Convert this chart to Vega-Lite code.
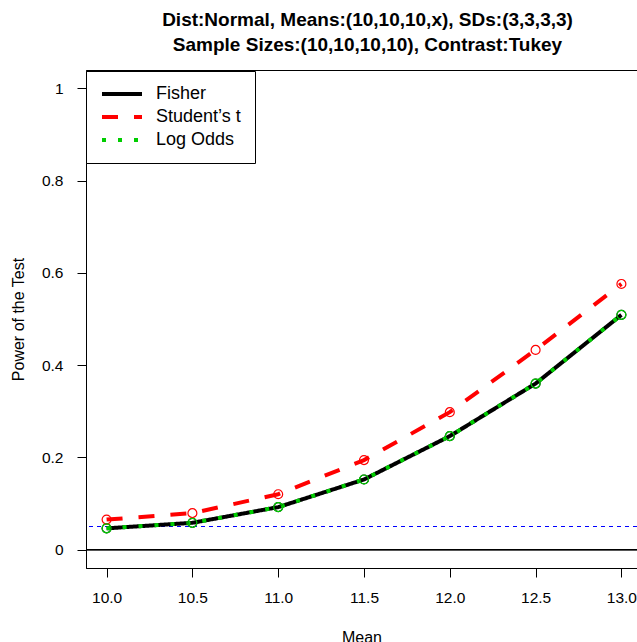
{
"$schema": "https://vega.github.io/schema/vega-lite/v6.json",
"width": 551,
"height": 498,
"autosize": "none",
"padding": {"left": 86, "top": 70, "right": 0, "bottom": 74},
"background": "white",
"title": {
  "text": ["Dist:Normal, Means:(10,10,10,x), SDs:(3,3,3,3)", "Sample Sizes:(10,10,10,10), Contrast:Tukey"],
  "font": "Liberation Sans", "fontSize": 19, "fontWeight": "bold", "color": "black",
  "anchor": "middle", "dx": 6, "offset": 15, "lineHeight": 25
},
"data": {"values": [
  {"mean": 10.0, "series": "Fisher", "power": 0.046},
  {"mean": 10.5, "series": "Fisher", "power": 0.058},
  {"mean": 11.0, "series": "Fisher", "power": 0.092},
  {"mean": 11.5, "series": "Fisher", "power": 0.152},
  {"mean": 12.0, "series": "Fisher", "power": 0.246},
  {"mean": 12.5, "series": "Fisher", "power": 0.360},
  {"mean": 13.0, "series": "Fisher", "power": 0.509},
  {"mean": 10.0, "series": "Student’s t", "power": 0.065},
  {"mean": 10.5, "series": "Student’s t", "power": 0.079},
  {"mean": 11.0, "series": "Student’s t", "power": 0.120},
  {"mean": 11.5, "series": "Student’s t", "power": 0.194},
  {"mean": 12.0, "series": "Student’s t", "power": 0.298},
  {"mean": 12.5, "series": "Student’s t", "power": 0.433},
  {"mean": 13.0, "series": "Student’s t", "power": 0.576},
  {"mean": 10.0, "series": "Log Odds", "power": 0.046},
  {"mean": 10.5, "series": "Log Odds", "power": 0.058},
  {"mean": 11.0, "series": "Log Odds", "power": 0.092},
  {"mean": 11.5, "series": "Log Odds", "power": 0.152},
  {"mean": 12.0, "series": "Log Odds", "power": 0.246},
  {"mean": 12.5, "series": "Log Odds", "power": 0.360},
  {"mean": 13.0, "series": "Log Odds", "power": 0.509}
]},
"layer": [
  {
    "mark": {"type": "rule", "color": "black", "strokeWidth": 1},
    "encoding": {"y": {"datum": 0, "type": "quantitative"}}
  },
  {
    "mark": {"type": "rule", "color": "blue", "strokeWidth": 1, "strokeDash": [4, 4]},
    "encoding": {"y": {"datum": 0.05, "type": "quantitative"}}
  },
  {
    "mark": {"type": "line", "strokeWidth": 4, "strokeCap": "butt"},
    "encoding": {
      "x": {"field": "mean", "type": "quantitative",
        "scale": {"domain": [9.88, 13.0909], "nice": false, "zero": false},
        "axis": {"values": [10, 10.5, 11, 11.5, 12, 12.5, 13], "format": ".1f", "title": "Mean",
          "grid": false, "tickSize": 9, "labelPadding": 13, "labelFontSize": 15.5, "titleFontSize": 16, "titleFontWeight": "normal", "titlePadding": 24}},
      "y": {"field": "power", "type": "quantitative",
        "scale": {"domain": [-0.04, 1.04], "nice": false, "zero": false},
        "axis": {"values": [0, 0.2, 0.4, 0.6, 0.8, 1], "format": ".1~f", "title": "Power of the Test",
          "grid": false, "tickSize": 9, "labelPadding": 14, "labelFontSize": 15.5, "titleFontSize": 16, "titleFontWeight": "normal", "titlePadding": 15}},
      "color": {"field": "series", "type": "nominal",
        "scale": {"domain": ["Fisher", "Student’s t", "Log Odds"], "range": ["black", "red", "#00CD00"]},
        "legend": {"orient": "none", "legendX": 0, "legendY": 1, "title": null,
          "strokeColor": "black", "fillColor": "white", "padding": 14, "cornerRadius": 0,
          "symbolType": "stroke", "symbolSize": 1600, "symbolStrokeWidth": 4, "symbolOpacity": 1,
          "clipHeight": 18,
          "labelFontSize": 18, "labelFont": "Liberation Sans", "labelColor": "black",
          "rowPadding": 5, "labelOffset": 12}},
      "strokeDash": {"field": "series", "type": "nominal",
        "scale": {"domain": ["Fisher", "Student’s t", "Log Odds"], "range": [[1, 0], [16, 16], [4, 12]]},
        "legend": {"orient": "none", "legendX": 0, "legendY": 1, "title": null}}
    }
  },
  {
    "mark": {"type": "point", "shape": "circle", "filled": false, "size": 80, "strokeWidth": 1.2, "opacity": 1},
    "encoding": {
      "x": {"field": "mean", "type": "quantitative"},
      "y": {"field": "power", "type": "quantitative"},
      "color": {"field": "series", "type": "nominal"}
    }
  }
],
"config": {
  "font": "Liberation Sans",
  "view": {"stroke": "black", "strokeWidth": 1},
  "axis": {"domainColor": "black", "tickColor": "black", "labelColor": "black", "titleColor": "black",
    "labelFont": "Liberation Sans", "titleFont": "Liberation Sans", "domainWidth": 1, "tickWidth": 1}
}
}
